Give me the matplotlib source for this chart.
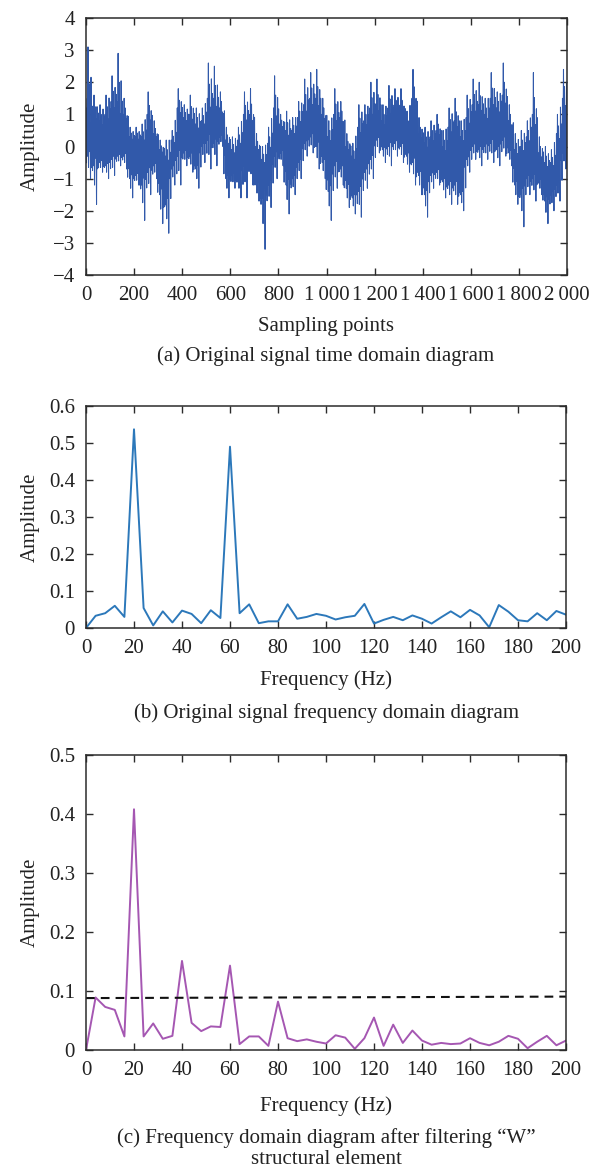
import numpy as np
import matplotlib
matplotlib.use("Agg")
import matplotlib.pyplot as plt

plt.rcParams["font.family"] = ["Liberation Serif", "DejaVu Serif"]
plt.rcParams["mathtext.fontset"] = "stix"

# ---- (a) time-domain record: per 25-sample bin, spike extremes and dense-band limits
peak_hi = [3.1, 1.6, 1.3, 1.6, 2.2, 2.9, 1.5, 0.6, 0.6, 0.7,
           1.7, 0.8, 0.2, 0.2, 0.5, 1.8, 1.3, 1.6, 1.2, 1.2,
           2.6, 2.5, 1.7, 0.6, 0.3, 0.6, 1.7, 1.8, 0.4, 0.0,
           0.6, 2.2, 1.0, 1.1, 0.9, 1.4, 2.1, 2.3, 2.4, 1.5,
           0.8, 1.8, 1.4, 0.4, 0.1, 1.3, 1.3, 2.0, 2.1, 1.3,
           1.9, 1.8, 1.8, 1.1, 2.4, 0.9, 0.6, 0.8, 1.0, 0.5,
           1.2, 1.5, 0.8, 1.6, 2.1, 2.0, 1.5, 2.3, 1.7, 2.6,
           1.3, 0.4, 0.5, 0.8, 2.3, 0.3, 0.0, -0.1, 1.0, 2.4]
peak_lo = [-1.0, -1.8, -0.8, -1.0, -0.9, -0.6, -0.7, -1.6, -1.2, -2.3,
           -1.5, -1.0, -2.4, -2.7, -1.2, -1.2, -0.6, -0.8, -1.3, -0.5,
           -0.7, -0.6, 0.0, -1.6, -1.3, -1.6, -1.6, -1.2, -1.7, -3.2,
           -1.9, -1.0, -0.6, -2.1, -1.5, -1.0, -0.3, -0.2, -0.7, -1.0,
           -2.3, -1.3, -1.2, -1.9, -2.1, -2.2, -1.3, -1.0, -0.2, -0.5,
           -0.6, -0.3, -0.5, -0.8, -1.2, -1.5, -2.2, -1.3, -1.2, -1.6,
           -1.8, -1.8, -2.0, -0.8, -0.4, -0.6, -0.4, -0.5, -0.6, -0.3,
           -0.6, -1.8, -2.5, -1.5, -1.7, -1.5, -2.4, -2.0, -1.7, -0.7]
core_hi = [1.2, 1.0, 0.8, 1.0, 1.4, 1.4, 1.0, 0.3, 0.3, 0.3,
           1.0, 0.4, -0.1, -0.3, 0.2, 1.2, 0.9, 1.0, 0.7, 0.8,
           1.5, 1.5, 1.2, 0.2, -0.1, 0.2, 1.0, 1.0, 0.0, -0.4,
           0.1, 1.2, 0.7, 0.5, 0.5, 0.9, 1.3, 1.5, 1.5, 1.0,
           0.3, 1.0, 0.9, 0.0, -0.3, 0.6, 0.8, 1.2, 1.3, 0.8,
           1.2, 1.2, 1.2, 0.6, 1.5, 0.4, 0.1, 0.3, 0.5, 0.0,
           0.6, 0.8, 0.3, 0.9, 1.3, 1.3, 1.0, 1.5, 1.2, 1.6,
           0.8, -0.1, 0.0, 0.3, 1.0, -0.2, -0.5, -0.5, 0.4, 1.5]
core_lo = [-0.3, -0.6, -0.5, -0.6, -0.4, -0.3, -0.3, -1.0, -0.9, -1.2,
           -0.8, -0.6, -1.5, -1.8, -0.7, -0.3, -0.2, -0.3, -0.7, 0.0,
           0.2, 0.1, 0.3, -1.0, -0.9, -1.0, -0.6, -0.5, -1.2, -1.6,
           -1.2, -0.3, -0.2, -1.2, -1.0, -0.5, 0.1, 0.3, 0.0, -0.5,
           -1.4, -0.6, -0.7, -1.3, -1.6, -1.4, -0.8, -0.4, 0.2, -0.1,
           0.0, 0.1, 0.0, -0.3, -0.5, -0.9, -1.5, -0.9, -0.8, -1.1,
           -1.2, -1.2, -1.5, -0.4, 0.0, -0.1, 0.0, 0.1, -0.1, 0.2,
           -0.2, -1.2, -1.5, -1.0, -1.0, -1.1, -1.7, -1.5, -1.2, -0.2]
n_samples = 2000

# ---- (b) spectrum of the original signal, 4 Hz resolution
freq = list(range(0, 201, 4))
amp_orig = [0.000, 0.033, 0.040, 0.060, 0.030, 0.537, 0.054, 0.007, 0.045, 0.015,
            0.047, 0.038, 0.013, 0.048, 0.027, 0.490, 0.040, 0.064, 0.013, 0.018,
            0.018, 0.064, 0.025, 0.030, 0.038, 0.033, 0.023, 0.029, 0.033, 0.065,
            0.012, 0.022, 0.030, 0.021, 0.034, 0.025, 0.012, 0.029, 0.045, 0.029,
            0.049, 0.034, 0.002, 0.062, 0.044, 0.021, 0.018, 0.040, 0.021, 0.046,
            0.036]

# ---- (c) spectrum after "W" structural-element filtering
amp_filt = [0.000, 0.089, 0.073, 0.068, 0.023, 0.408, 0.023, 0.045, 0.019, 0.024,
            0.151, 0.046, 0.032, 0.040, 0.039, 0.143, 0.010, 0.023, 0.023, 0.007,
            0.082, 0.020, 0.015, 0.018, 0.014, 0.011, 0.025, 0.021, 0.002, 0.020,
            0.055, 0.007, 0.043, 0.012, 0.033, 0.016, 0.009, 0.012, 0.010, 0.011,
            0.020, 0.012, 0.008, 0.014, 0.024, 0.019, 0.003, 0.014, 0.024, 0.008,
            0.016]
threshold_f = [0, 200]
threshold_v = [0.088, 0.0905]

# Each bin is drawn as a zigzag: upper vertices sit between the band top and the
# bin's upward spike, lower vertices between the band bottom and its downward spike.
# The fractions only fix where inside those two ranges each vertex lands.
up_frac = [0.15, 0.0, 1.0, 0.4, -0.25, 0.55]
down_frac = [0.3, 0.0, 0.5, -0.2, 1.0, 0.15]

trace = []
nb = len(peak_hi)
for i in range(nb):
    p, n = max(i - 1, 0), min(i + 1, nb - 1)
    for j, (fu, fd) in enumerate(zip(up_frac, down_frac)):
        ch = core_hi[p] if j == 0 else (core_hi[n] if j == len(up_frac) - 1 else core_hi[i])
        cl = core_lo[p] if j == 0 else (core_lo[n] if j == len(up_frac) - 1 else core_lo[i])
        trace.append(ch + fu * (peak_hi[i] - ch))
        trace.append(cl + fd * (peak_lo[i] - cl))
trace = np.array(trace)
t = np.linspace(0, n_samples, len(trace))

W, H = 598, 1169
fig = plt.figure(figsize=(W / 100, H / 100), dpi=100)

FS = 15
edge = "#2b2b2b"


def axes_px(left, top, right, bottom):
    return fig.add_axes([left / W, 1 - bottom / H, (right - left) / W, (bottom - top) / H])


def style(ax):
    for s in ax.spines.values():
        s.set_color(edge)
        s.set_linewidth(1.1)
    ax.tick_params(direction="in", length=5, width=1.0, color=edge,
                   top=True, right=True, labelsize=FS, pad=8, labelcolor="#222222")


def ftext(x, y, s, **kw):
    fig.text(x / W, 1 - y / H, s, fontsize=FS, ha="center", va="center",
             color="#222222", **kw)


# (a)
ax1 = axes_px(86, 18, 567, 275)
ax1.plot(t, trace, color="#3159aa", lw=0.75)
ax1.set_xlim(0, 2000)
ax1.set_ylim(-4, 4)
xt = list(range(0, 2001, 200))
ax1.set_xticks(xt)
ax1.set_xticklabels([f"{v // 1000}\u2009{v % 1000:03d}" if v >= 1000 else str(v) for v in xt])
ax1.set_yticks(range(-4, 5))
style(ax1)
ftext(30, 146, "Amplitude", rotation=90)
ftext(326, 327, "Sampling points")
ftext(326, 356, "(a) Original signal time domain diagram")

# (b)
ax2 = axes_px(86, 406, 566, 628)
ax2.plot(freq, amp_orig, color="#2c78ba", lw=1.4)
ax2.set_xlim(0, 200)
ax2.set_ylim(0, 0.6)
ax2.set_xticks(range(0, 201, 20))
ax2.set_yticks([0, 0.1, 0.2, 0.3, 0.4, 0.5, 0.6])
ax2.set_yticklabels(["0", "0.1", "0.2", "0.3", "0.4", "0.5", "0.6"])
style(ax2)
ftext(30, 517, "Amplitude", rotation=90)
ftext(326, 680, "Frequency (Hz)")
ftext(326, 713, "(b) Original signal frequency domain diagram")

# (c)
ax3 = axes_px(86, 755, 566, 1050)
ax3.plot(freq, amp_filt, color="#a557b2", lw=1.4)
ax3.plot(threshold_f, threshold_v, color="#111111", lw=1.5, ls=(0, (4.2, 2.9)))
ax3.set_xlim(0, 200)
ax3.set_ylim(0, 0.5)
ax3.set_xticks(range(0, 201, 20))
ax3.set_yticks([0, 0.1, 0.2, 0.3, 0.4, 0.5])
ax3.set_yticklabels(["0", "0.1", "0.2", "0.3", "0.4", "0.5"])
style(ax3)
ftext(30, 902, "Amplitude", rotation=90)
ftext(326, 1106, "Frequency (Hz)")
ftext(326, 1138, "(c) Frequency domain diagram after filtering \u201cW\u201d")
ftext(326, 1159, "structural element")

fig.savefig("out.png", dpi=100)
